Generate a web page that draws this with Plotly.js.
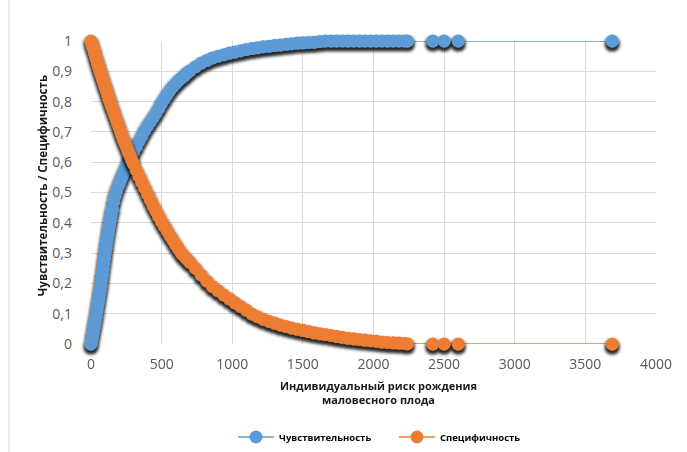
<!DOCTYPE html>
<html>
<head>
<meta charset="utf-8">
<script src="https://cdn.plot.ly/plotly-3.0.1.min.js"></script>
<style>
html,body{margin:0;padding:0;background:#fff;}
#chart{width:687px;height:452px;}
</style>
</head>
<body>
<svg width="0" height="0" style="position:absolute">
  <defs>
    <filter id="sh" x="-30%" y="-30%" width="160%" height="160%">
      <feMorphology in="SourceAlpha" operator="dilate" radius="1.2" result="d"/>
      <feOffset in="d" dx="0" dy="3" result="o"/>
      <feGaussianBlur in="o" stdDeviation="1.4" result="b"/>
      <feComponentTransfer in="b" result="t"><feFuncA type="linear" slope="0.85"/></feComponentTransfer>
      <feMerge><feMergeNode in="t"/><feMergeNode in="SourceGraphic"/></feMerge>
    </filter>
  </defs>
</svg>
<div id="chart"></div>
<script>
// Thresholds: individual risk of low birth weight
const risk = [
  0,5,10,15,20,25,30,35,40,45,50,55,60,65,70,75,80,85,90,95,100,105,110,115,120,125,130,135,140,145,150,
  160,170,180,190,200,210,220,230,240,250,260,270,280,290,300,
  320,340,360,380,400,420,440,460,480,500,520,540,560,580,600,620,640,660,680,700,
  740,780,820,860,900,940,980,1020,1060,1100,1140,1180,1220,1260,1300,1340,1380,1420,1460,1500,
  1540,1580,1620,1660,1700,1740,1780,1820,1860,1900,1940,1980,2020,2060,2100,2140,2180,2220,2240,
  2420,2500,2600,3690
];
const sensitivity = [
  0,0.01,0.025,0.038,0.052,0.065,0.078,0.091,0.105,0.12,0.135,0.15,0.165,0.18,0.195,0.212,0.23,0.248,0.265,0.283,0.3,0.316,0.332,0.348,0.363,0.378,0.393,0.407,0.42,0.433,0.445,
  0.47,0.49,0.505,0.518,0.53,0.542,0.553,0.564,0.575,0.585,0.597,0.607,0.616,0.625,0.634,
  0.652,0.67,0.687,0.705,0.72,0.734,0.748,0.762,0.778,0.795,0.81,0.825,0.838,0.85,0.86,0.87,0.878,0.886,0.895,0.902,
  0.915,0.927,0.936,0.944,0.95,0.955,0.96,0.964,0.968,0.972,0.975,0.978,0.981,0.983,0.985,0.987,0.989,0.991,0.993,0.994,
  0.995,0.996,0.998,1,1,1,1,1,1,1,1,1,1,1,1,1,1,1,1,
  1,1,1,1
];
const specificity = [
  1,0.992,0.985,0.977,0.97,0.962,0.954,0.946,0.938,0.93,0.923,0.915,0.907,0.9,0.893,0.886,0.879,0.871,0.864,0.857,0.85,0.843,0.836,0.829,0.822,0.814,0.807,0.8,0.793,0.787,0.78,
  0.767,0.754,0.741,0.727,0.714,0.7,0.688,0.676,0.664,0.652,0.64,0.628,0.617,0.606,0.595,
  0.574,0.554,0.534,0.515,0.495,0.476,0.457,0.439,0.421,0.404,0.389,0.373,0.358,0.343,0.328,0.314,0.3,0.29,0.28,0.27,
  0.25,0.228,0.208,0.19,0.176,0.162,0.149,0.136,0.124,0.112,0.099,0.09,0.082,0.075,0.069,0.063,0.058,0.053,0.049,0.045,
  0.041,0.037,0.034,0.031,0.028,0.025,0.022,0.019,0.017,0.015,0.013,0.011,0.009,0.007,0.005,0.004,0.003,0.002,0.001,
  0,0,0,0
];
const seriesNames = ['Чувствительность','Специфичность'];
const xTitle = 'Индивидуальный риск рождения<br>маловесного плода';
const yTitle = 'Чувствительность / Специфичность';

const blue = '#5B9BD5', orange = '#ED7D31';
const tickFont = {family:'Open Sans, sans-serif', size:14, color:'#595959'};

const traces = [
  {x:risk, y:sensitivity, name:seriesNames[0], type:'scatter', mode:'lines+markers',
   line:{color:blue, width:1.5}, marker:{color:blue, size:13}, cliponaxis:false},
  {x:risk, y:specificity, name:seriesNames[1], type:'scatter', mode:'lines+markers',
   line:{color:orange, width:1.5}, marker:{color:orange, size:13}, cliponaxis:false}
];

const layout = {
  width:687, height:452,
  margin:{l:91, r:31, t:41, b:108, autoexpand:false},
  paper_bgcolor:'#fff', plot_bgcolor:'#fff',
  separators:', ',
  showlegend:true,
  legend:{orientation:'h', x:0.2513, xanchor:'left', y:-0.307, yanchor:'middle',
    font:{family:'Open Sans, sans-serif', size:9.5, color:'#000', weight:'bold'},
    bgcolor:'rgba(0,0,0,0)', itemwidth:36, entrywidth:110, entrywidthmode:'pixels'},
  xaxis:{range:[0,4000], dtick:500, tick0:0, showgrid:true, gridcolor:'#D9D9D9', gridwidth:1,
    zeroline:false, showline:false, ticks:'', tickfont:tickFont, ticklabelstandoff:10, fixedrange:true},
  yaxis:{range:[0,1], dtick:0.1, tick0:0, showgrid:true, gridcolor:'#D9D9D9', gridwidth:1,
    zeroline:false, showline:false, ticks:'', tickfont:tickFont, ticklabelstandoff:18, fixedrange:true},
  annotations:[
    {text:xTitle, xref:'paper', yref:'paper', x:0.5097, y:-0.160, xanchor:'center', yanchor:'middle',
     showarrow:false, font:{family:'Open Sans, sans-serif', size:11, color:'#1a1a1a', weight:'bold'}},
    {text:yTitle, xref:'paper', yref:'paper', x:-0.0867, y:0.521, xanchor:'center', yanchor:'middle',
     textangle:-90, showarrow:false, font:{family:'Open Sans, sans-serif', size:11.6, color:'#1a1a1a', weight:'bold'}}
  ],
  shapes:[
    {type:'line', xref:'paper', yref:'paper', x0:-0.1451, x1:-0.1451, y0:-0.36, y1:1.14,
     line:{color:'#D0D0D0', width:1}}
  ]
};

Plotly.newPlot('chart', traces, layout, {displayModeBar:false, staticPlot:true}).then(function(){
  document.querySelectorAll('.scatterlayer .trace .points').forEach(function(g){
    g.setAttribute('filter','url(#sh)');
  });
});
</script>
</body>
</html>
